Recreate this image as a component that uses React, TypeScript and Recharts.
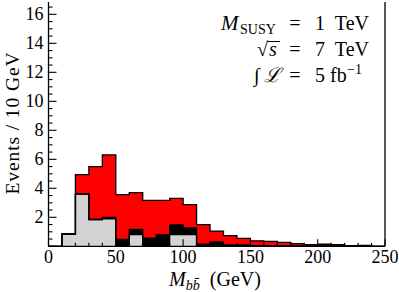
import React from 'react';
import { ComposedChart, Area, XAxis, YAxis } from 'recharts';

// Bin lower edges (GeV), 10 GeV bins
const binEdges = [0, 10, 20, 30, 40, 50, 60, 70, 80, 90, 100, 110, 120, 130, 140, 150, 160, 170, 180, 190, 200, 210, 220, 230, 240];
const histEnd = 250;
// Events per bin, per component (stacked: gray bottom, black middle, red top)
const grayValues = [0, 0.85, 3.6, 1.85, 1.9, 0, 0.8, 0, 0, 0.8, 0.8, 0, 0, 0, 0, 0, 0, 0, 0, 0, 0, 0, 0, 0, 0];
const blackValues = [0, 0, 0, 0, 0.1, 0.48, 0.37, 0.57, 0.8, 0.67, 0.47, 0.15, 0.3, 0.1, 0.1, 0.05, 0.05, 0.03, 0.03, 0.02, 0.03, 0.02, 0.02, 0.02, 0];
const redValues = [0, 0, 1.35, 3.65, 4.3, 3.08, 2.53, 2.6, 2.37, 1.84, 1.6, 1.34, 0.75, 0.64, 0.45, 0.33, 0.29, 0.24, 0.16, 0.1, 0.11, 0.1, 0.03, 0.05, 0];

const xTicks = [0, 10, 20, 30, 40, 50, 60, 70, 80, 90, 100, 110, 120, 130, 140, 150, 160, 170, 180, 190, 200, 210, 220, 230, 240, 250];
const xLabelTicks = [0, 50, 100, 150, 200, 250];
const yTicks = [0, 0.5, 1, 1.5, 2, 2.5, 3, 3.5, 4, 4.5, 5, 5.5, 6, 6.5, 7, 7.5, 8, 8.5, 9, 9.5, 10, 10.5, 11, 11.5, 12, 12.5, 13, 13.5, 14, 14.5, 15, 15.5, 16, 16.5];
const yLabelTicks = [2, 4, 6, 8, 10, 12, 14, 16];
const yMax = 16.85;

const rows = binEdges.map((x, i) => ({
  x,
  gray: grayValues[i],
  black: blackValues[i],
  red: redValues[i],
  grayLine: grayValues[i],
  blackLine: blackValues[i],
  redLine: redValues[i],
}));
const last = binEdges.length - 1;
rows.push({
  x: histEnd,
  gray: grayValues[last],
  black: blackValues[last],
  red: redValues[last],
  grayLine: grayValues[last],
  blackLine: blackValues[last],
  redLine: redValues[last],
});

const FONT = '"Liberation Serif", "DejaVu Serif", serif';
const TW = 1.1;
const TICK_FS = 18;
const FS = 20;

const BottomTick = (props: any) => {
  const { x, y, payload } = props;
  const v = payload.value;
  const major = xLabelTicks.includes(v);
  return (
    <g>
      <line x1={x} x2={x} y1={y} y2={y - (major ? 7 : 3.5)} stroke="#000" strokeWidth={TW} />
      {major && (
        <text x={x} y={y + 17} textAnchor="middle" fontFamily={FONT} fontSize={TICK_FS} fill="#000">
          {v}
        </text>
      )}
    </g>
  );
};
const TopTick = (props: any) => {
  const { x, y, payload } = props;
  const major = xLabelTicks.includes(payload.value);
  return <line x1={x} x2={x} y1={y} y2={y + (major ? 7 : 3.5)} stroke="#000" strokeWidth={TW} />;
};
const LeftTick = (props: any) => {
  const { x, y, payload } = props;
  const v = payload.value;
  const major = Number.isInteger(v / 2);
  return (
    <g>
      <line x1={x} x2={x + (major ? 8 : 4)} y1={y} y2={y} stroke="#000" strokeWidth={TW} />
      {yLabelTicks.includes(v) && (
        <text x={x - 5} y={y + 6} textAnchor="end" fontFamily={FONT} fontSize={TICK_FS} fill="#000">
          {v}
        </text>
      )}
    </g>
  );
};
const RightTick = (props: any) => {
  const { x, y, payload } = props;
  const major = Number.isInteger(payload.value / 2);
  return <line x1={x} x2={x - (major ? 8 : 4)} y1={y} y2={y} stroke="#000" strokeWidth={TW} />;
};

const axisLine = { stroke: '#000', strokeWidth: 1.3 };

export default function App() {
  return (
    <div style={{ position: 'absolute', left: 0, top: 0, width: 399, height: 292, background: '#fff' }}>
      <ComposedChart width={399} height={292} data={rows} margin={{ top: 2, right: 0, bottom: 0, left: 0 }}>
        <XAxis
          xAxisId="b"
          dataKey="x"
          type="number"
          domain={[0, 250]}
          ticks={xTicks}
          interval={0}
          tickLine={false}
          tickSize={0}
          tickMargin={0}
          tick={<BottomTick />}
          axisLine={axisLine}
          height={45.7}
          orientation="bottom"
        />
        <XAxis
          xAxisId="t"
          dataKey="x"
          type="number"
          domain={[0, 250]}
          ticks={xTicks}
          interval={0}
          tickLine={false}
          tickSize={0}
          tickMargin={0}
          tick={<TopTick />}
          axisLine={axisLine}
          height={0}
          orientation="top"
        />
        <YAxis
          yAxisId="l"
          type="number"
          domain={[0, yMax]}
          ticks={yTicks}
          interval={0}
          tickLine={false}
          tickSize={0}
          tickMargin={0}
          tick={<LeftTick />}
          axisLine={axisLine}
          width={48.5}
          orientation="left"
        />
        <YAxis
          yAxisId="r"
          type="number"
          domain={[0, yMax]}
          ticks={yTicks}
          interval={0}
          tickLine={false}
          tickSize={0}
          tickMargin={0}
          tick={<RightTick />}
          axisLine={axisLine}
          width={14}
          orientation="right"
        />
        <Area xAxisId="b" yAxisId="l" type="stepAfter" dataKey="gray" stackId="fill" fill="#d3d3d3" fillOpacity={1} stroke="none" isAnimationActive={false} />
        <Area xAxisId="b" yAxisId="l" type="stepAfter" dataKey="black" stackId="fill" fill="#000000" fillOpacity={1} stroke="none" isAnimationActive={false} />
        <Area xAxisId="b" yAxisId="l" type="stepAfter" dataKey="red" stackId="fill" fill="#ff0000" fillOpacity={1} stroke="none" isAnimationActive={false} />
        <Area xAxisId="b" yAxisId="l" type="stepAfter" dataKey="grayLine" stackId="line" fill="none" stroke="#000" strokeWidth={1.3} isAnimationActive={false} />
        <Area xAxisId="b" yAxisId="l" type="stepAfter" dataKey="blackLine" stackId="line" fill="none" stroke="#000" strokeWidth={1.3} isAnimationActive={false} />
        <Area xAxisId="b" yAxisId="l" type="stepAfter" dataKey="redLine" stackId="line" fill="none" stroke="#000" strokeWidth={1.3} isAnimationActive={false} />
      </ComposedChart>
      <svg width={399} height={292} style={{ position: 'absolute', left: 0, top: 0, pointerEvents: 'none' }} fontFamily={FONT} fill="#000">
        <text x={19} y={123} transform="rotate(-90 19 123)" textAnchor="middle" fontSize={19.5} letterSpacing={0.9}>
          Events / 10 GeV
        </text>
        <text x={215} y={286} textAnchor="middle" fontSize={FS}>
          <tspan fontStyle="italic">M</tspan>
          <tspan fontStyle="italic" fontSize={14} dy={4}>bb̄</tspan>
          <tspan dy={-4}>{'\u00a0\u00a0(GeV)'}</tspan>
        </text>

        {/* Row 1 */}
        <text x={221} y={30} fontSize={21} fontStyle="italic">M</text>
        <text x={240} y={34} fontSize={14}>SUSY</text>
        <text x={295} y={30} fontSize={FS} textAnchor="middle">=</text>
        <text x={320} y={30} fontSize={FS} textAnchor="middle">1</text>
        <text x={369} y={30} fontSize={FS} textAnchor="end">TeV</text>

        {/* Row 2 */}
        <text x={257} y={56} fontSize={FS}>√</text>
        <line x1={267} x2={280} y1={41.5} y2={41.5} stroke="#000" strokeWidth={1} />
        <text x={269} y={56} fontSize={FS} fontStyle="italic">s</text>
        <text x={295} y={56} fontSize={FS} textAnchor="middle">=</text>
        <text x={320} y={56} fontSize={FS} textAnchor="middle">7</text>
        <text x={369} y={56} fontSize={FS} textAnchor="end">TeV</text>

        {/* Row 3 */}
        <text x={254} y={82} fontSize={FS}>∫</text>
        <text x={264} y={82} fontSize={FS} fontStyle="italic">ℒ</text>
        <text x={295} y={82} fontSize={FS} textAnchor="middle">=</text>
        <text x={320} y={82} fontSize={FS} textAnchor="middle">5</text>
        <text x={330} y={82} fontSize={FS}>fb</text>
        <text x={347} y={74} fontSize={14}>−1</text>
      </svg>
    </div>
  );
}
